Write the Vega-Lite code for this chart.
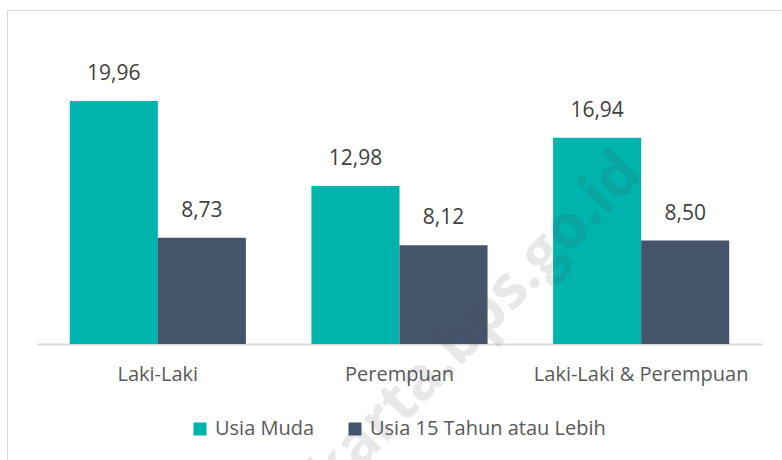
{
  "$schema": "https://vega.github.io/schema/vega-lite/v6.json",
  "width": 775,
  "height": 450,
  "autosize": {"type": "none"},
  "padding": {"left": 7, "top": 10, "right": 0, "bottom": 0},
  "background": "#FFFFFF",
  "config": {
    "view": {"stroke": "#D9D9D9", "strokeWidth": 1},
    "font": "Open Sans"
  },
  "data": {
    "values": [
      {"kategori": "Laki-Laki", "kelompok": "Usia Muda", "nilai": 19.96, "label": "19,96"},
      {"kategori": "Laki-Laki", "kelompok": "Usia 15 Tahun atau Lebih", "nilai": 8.73, "label": "8,73"},
      {"kategori": "Perempuan", "kelompok": "Usia Muda", "nilai": 12.98, "label": "12,98"},
      {"kategori": "Perempuan", "kelompok": "Usia 15 Tahun atau Lebih", "nilai": 8.12, "label": "8,12"},
      {"kategori": "Laki-Laki & Perempuan", "kelompok": "Usia Muda", "nilai": 16.94, "label": "16,94"},
      {"kategori": "Laki-Laki & Perempuan", "kelompok": "Usia 15 Tahun atau Lebih", "nilai": 8.50, "label": "8,50"}
    ]
  },
  "encoding": {
    "x": {
      "field": "kategori",
      "type": "nominal",
      "sort": ["Laki-Laki", "Perempuan", "Laki-Laki & Perempuan"],
      "scale": {"range": [30, 755], "paddingInner": 0.2712, "paddingOuter": 0.1356},
      "axis": {
        "title": null,
        "orient": "bottom",
        "offset": -116,
        "domainColor": "#D9D9D9",
        "domainWidth": 2,
        "ticks": false,
        "labelAngle": 0,
        "labelFont": "Open Sans",
        "labelFontSize": 20,
        "labelColor": "#595959",
        "labelPadding": 20,
        "labelLimit": 0
      }
    },
    "y": {
      "field": "nilai",
      "type": "quantitative",
      "scale": {"domain": [0, 25], "range": [334, 29.75], "nice": false},
      "axis": null
    }
  },
  "layer": [
    {
      "mark": {"type": "bar"},
      "encoding": {
        "xOffset": {
          "field": "kelompok",
          "type": "nominal",
          "sort": ["Usia Muda", "Usia 15 Tahun atau Lebih"],
          "scale": {"paddingInner": 0, "paddingOuter": 0}
        },
        "color": {
          "field": "kelompok",
          "type": "nominal",
          "sort": ["Usia Muda", "Usia 15 Tahun atau Lebih"],
          "scale": {"domain": ["Usia Muda", "Usia 15 Tahun atau Lebih"], "range": ["#00B3AD", "#44546A"]},
          "legend": {
            "title": null,
            "orient": "none",
            "direction": "horizontal",
            "legendX": 183,
            "legendY": 409,
            "symbolType": "square",
            "symbolSize": 169,
            "symbolStrokeWidth": 0,
            "labelFont": "Open Sans",
            "labelFontSize": 20,
            "labelColor": "#595959",
            "labelOffset": 5,
            "labelLimit": 0,
            "columnPadding": 30
          }
        }
      }
    },
    {
      "mark": {"type": "text", "baseline": "middle", "dy": -27, "font": "Open Sans", "fontSize": 21, "color": "#404040"},
      "encoding": {
        "xOffset": {
          "field": "kelompok",
          "type": "nominal",
          "sort": ["Usia Muda", "Usia 15 Tahun atau Lebih"]
        },
        "text": {"field": "label"}
      }
    },
    {
      "data": {"values": [{"kategori": "Perempuan", "nilai": 0, "teks": "jakarta.bps.go.id"}]},
      "mark": {"type": "text", "align": "center", "baseline": "middle", "angle": -46, "dx": 40, "dy": 41, "font": "Open Sans", "fontWeight": "bold", "fontSize": 60, "fill": "#505050", "fillOpacity": 0.13},
      "encoding": {
        "text": {"field": "teks"}
      }
    }
  ]
}
